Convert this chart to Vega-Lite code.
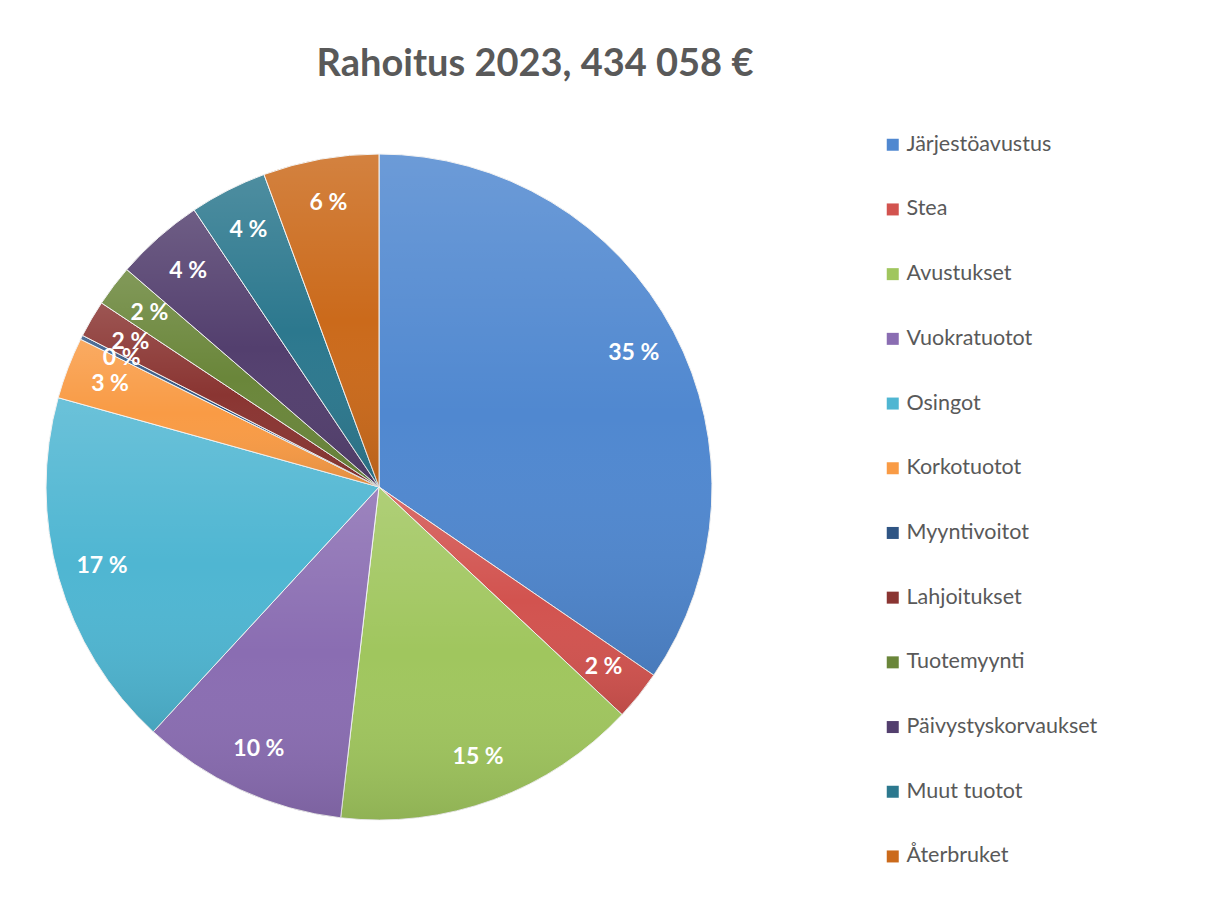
{
  "$schema": "https://vega.github.io/schema/vega-lite/v6.json",
  "autosize": "none",
  "width": 758,
  "height": 974,
  "padding": {"left": 0, "top": 0, "right": 458, "bottom": -70},
  "background": "white",
  "title": {
    "text": "Rahoitus 2023, 434 058 €",
    "frame": "group",
    "anchor": "middle",
    "orient": "top",
    "offset": -84,
    "dx": 156,
    "font": "Lato",
    "fontSize": 38,
    "fontWeight": "bold",
    "color": "#595959"
  },
  "config": {"view": {"stroke": null}},
  "data": {
    "values": [
      {"nro": 1, "lahde": "Järjestöavustus", "euroa": 150000, "osuus": "35 %"},
      {"nro": 2, "lahde": "Stea", "euroa": 10500, "osuus": "2 %"},
      {"nro": 3, "lahde": "Avustukset", "euroa": 64500, "osuus": "15 %"},
      {"nro": 4, "lahde": "Vuokratuotot", "euroa": 43500, "osuus": "10 %"},
      {"nro": 5, "lahde": "Osingot", "euroa": 75800, "osuus": "17 %"},
      {"nro": 6, "lahde": "Korkotuotot", "euroa": 13000, "osuus": "3 %"},
      {"nro": 7, "lahde": "Myyntivoitot", "euroa": 900, "osuus": "0 %"},
      {"nro": 8, "lahde": "Lahjoitukset", "euroa": 7800, "osuus": "2 %"},
      {"nro": 9, "lahde": "Tuotemyynti", "euroa": 8700, "osuus": "2 %"},
      {"nro": 10, "lahde": "Päivystyskorvaukset", "euroa": 18700, "osuus": "4 %"},
      {"nro": 11, "lahde": "Muut tuotot", "euroa": 16300, "osuus": "4 %"},
      {"nro": 12, "lahde": "Återbruket", "euroa": 24358, "osuus": "6 %"}
    ]
  },
  "encoding": {
    "theta": {"field": "euroa", "type": "quantitative", "stack": true},
    "order": {"field": "nro", "type": "quantitative"}
  },
  "layer": [
    {
      "mark": {"type": "arc", "outerRadius": 333, "stroke": "#f2f2f2", "strokeWidth": 1},
      "encoding": {
        "color": {
          "field": "lahde",
          "type": "nominal",
          "sort": null,
          "scale": {
            "domain": ["Järjestöavustus", "Stea", "Avustukset", "Vuokratuotot", "Osingot", "Korkotuotot", "Myyntivoitot", "Lahjoitukset", "Tuotemyynti", "Päivystyskorvaukset", "Muut tuotot", "Återbruket"],
            "range": ["#5088d0", "#d2534f", "#a0c65e", "#8a6db2", "#4fb6d2", "#f99b45", "#2f5584", "#8a3532", "#6a863a", "#533f6e", "#2c788e", "#cb6a1b"]
          },
          "legend": {
            "title": null,
            "orient": "none",
            "legendX": 882,
            "legendY": 134,
            "symbolType": "square",
            "symbolSize": 144,
            "symbolStrokeWidth": 0,
            "symbolOpacity": 1,
            "labelFont": "Lato",
            "labelFontSize": 21.5,
            "labelColor": "#595959",
            "labelOffset": 3,
            "rowPadding": 41.7,
            "labelLimit": 300
          }
        }
      }
    },
    {
      "mark": {
        "type": "arc",
        "outerRadius": 333,
        "strokeWidth": 0,
        "fill": {"gradient": "linear", "x1": 0, "y1": 0, "x2": 0, "y2": 1, "stops": [{"offset": 0, "color": "rgba(255,255,255,0.16)"}, {"offset": 0.5, "color": "rgba(255,255,255,0)"}, {"offset": 1, "color": "rgba(0,0,0,0.10)"}]}
      },
      "encoding": {}
    },
    {
      "mark": {"type": "text", "radius": 288, "font": "Lato", "fontSize": 23, "fontWeight": "bold", "color": "white"},
      "encoding": {"text": {"field": "osuus", "type": "nominal"}}
    }
  ]
}
